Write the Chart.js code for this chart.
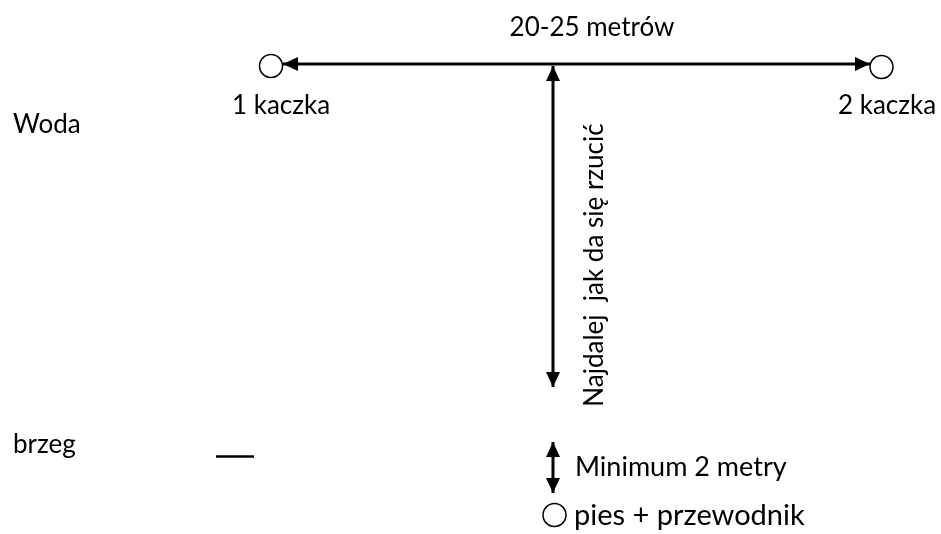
<!DOCTYPE html>
<html lang="pl">
<head>
  <meta charset="UTF-8">
  <title>Kaczki - schemat</title>
  <script src="https://cdn.jsdelivr.net/npm/chart.js"></script>
  <style>
    body { margin: 0; background: #fff; }
    .wrap { width: 941px; height: 534px; }
  </style>
</head>
<body>
<div class="wrap"><canvas id="chart"></canvas></div>
<script>
  // schemat w jednostkach rysunku (0..941 x 0..534)
  const topLine = [{x: 283, y: 64}, {x: 870, y: 64}];
  const throwLine = [{x: 553, y: 66}, {x: 553, y: 387}];
  const minLine = [{x: 553, y: 442}, {x: 553, y: 493}];
  const shoreMark = [{x: 216, y: 456.5}, {x: 254, y: 456.5}];

  // groty strzalek: punkt + kierunek (stopnie)
  const arrowTips = [{x: 283, y: 64}, {x: 870, y: 64}, {x: 553, y: 66}, {x: 553, y: 387}, {x: 553, y: 442}, {x: 553, y: 493}];
  const arrowDirs = [-90, 90, 0, 180, 0, 180];

  const ducks = [{x: 271, y: 66}, {x: 881.5, y: 67}, {x: 554.5, y: 515}];

  const labelTexts = ['20-25 metrów', '1 kaczka', '2 kaczka', 'Woda', 'brzeg', 'Minimum 2 metry', 'pies + przewodnik', 'Najdalej  jak da się rzucić'];
  const labelPos = [{x: 592, y: 36}, {x: 232, y: 114}, {x: 838, y: 114}, {x: 13, y: 133}, {x: 13, y: 453}, {x: 575, y: 476}, {x: 574, y: 525}, {x: 603, y: 265}];

  // grot jako maly obrazek (ostrze do gory)
  const HEAD_W = 14, HEAD_L = 15;
  const head = document.createElement('canvas');
  head.width = HEAD_W;
  head.height = HEAD_L;
  const hctx = head.getContext('2d');
  hctx.fillStyle = '#000';
  hctx.beginPath();
  hctx.moveTo(HEAD_W / 2, 0);
  hctx.lineTo(HEAD_W, HEAD_L);
  hctx.lineTo(0, HEAD_L);
  hctx.closePath();
  hctx.fill();

  // srodek grotu cofniety od czubka o pol dlugosci
  const arrowData = arrowTips.map((p, i) => {
    const a = arrowDirs[i] * Math.PI / 180;
    return {x: p.x - Math.sin(a) * HEAD_L / 2, y: p.y + Math.cos(a) * HEAD_L / 2};
  });

  const lineSet = (data) => ({
    type: 'line', data: data, borderColor: '#000', borderWidth: 3,
    pointRadius: 0, borderCapStyle: 'butt', fill: false
  });

  const textPlugin = {
    id: 'diagramText',
    afterDatasetsDraw(chart) {
      const {ctx, scales: {x, y}} = chart;
      ctx.save();
      ctx.fillStyle = '#000';
      ctx.textBaseline = 'alphabetic';
      labelTexts.forEach((t, i) => {
        const px = x.getPixelForValue(labelPos[i].x);
        const py = y.getPixelForValue(labelPos[i].y);
        // dolne podpisy sa w oryginale troche wieksze
        const size = i === 6 ? 29 : (i === 5 ? 27 : 26);
        ctx.font = size + 'px Lato, "Open Sans", sans-serif';
        ctx.save();
        ctx.translate(px, py);
        if (i === 7) {
          ctx.rotate(-Math.PI / 2);
          ctx.textAlign = 'center';
        } else {
          ctx.textAlign = (i === 0) ? 'center' : 'left';
        }
        ctx.fillText(t, 0, 0);
        ctx.restore();
      });
      ctx.restore();
    }
  };

  new Chart(document.getElementById('chart'), {
    type: 'scatter',
    data: {
      datasets: [
        lineSet(topLine),
        lineSet(throwLine),
        lineSet(minLine),
        {...lineSet(shoreMark), borderWidth: 2.5},
        {
          data: arrowData, pointStyle: head, rotation: arrowDirs
        },
        {
          data: ducks, pointStyle: 'circle', pointRadius: 11.5,
          backgroundColor: '#fff', borderColor: '#000', borderWidth: 1.5
        }
      ]
    },
    options: {
      responsive: true,
      maintainAspectRatio: false,
      animation: false,
      layout: {padding: 0, autoPadding: false},
      plugins: {legend: {display: false}, tooltip: {enabled: false}},
      scales: {
        x: {type: 'linear', min: 0, max: 941, display: false},
        y: {type: 'linear', min: 0, max: 534, reverse: true, display: false}
      }
    },
    plugins: [textPlugin]
  });
</script>
</body>
</html>
